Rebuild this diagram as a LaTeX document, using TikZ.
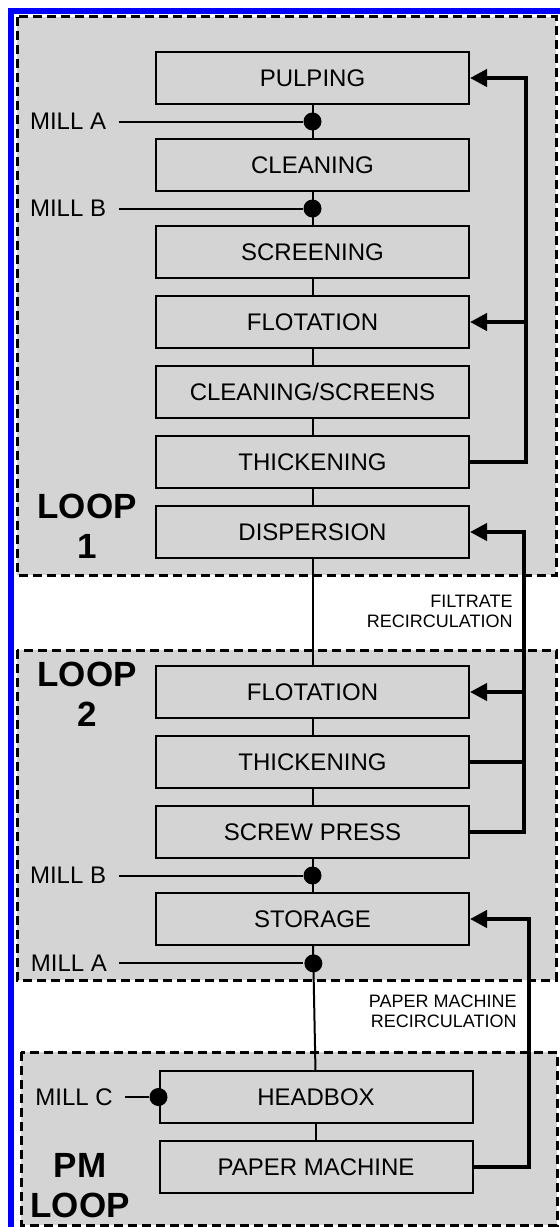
\documentclass[tikz,border=0pt]{standalone}
\usepackage{fontspec}
\setmainfont{Liberation Sans}
\usetikzlibrary{positioning, arrows.meta}

\definecolor{loopgray}{RGB}{212,212,212}
\definecolor{frameblue}{RGB}{0,0,255}

\begin{document}
\begin{tikzpicture}[
    x=0.5pt, y=-0.5pt,
    % Define the style for the process boxes
    stage/.style={
        rectangle,
        draw,
        line width=1pt,
        fill=loopgray,
        minimum width=156.5pt,
        minimum height=26pt,
        inner sep=0pt,
        font=\fontsize{12}{14}\selectfont
    },
    % Define the style for the dashed loop areas
    area/.style={
        draw,
        dash pattern=on 4.5pt off 2.5pt,
        line width=1.5pt,
        fill=loopgray
    },
    joint/.style={circle, fill, inner sep=0pt, minimum size=9pt},
    mill/.style={inner xsep=6pt, inner ysep=1.5pt, font=\fontsize{12}{14}\selectfont},
    looplabel/.style={align=center, inner sep=0pt, font=\bfseries\fontsize{17.5}{20}\selectfont},
    note/.style={align=right, inner sep=0pt, font=\fontsize{9}{10}\selectfont},
    % Define the style for the lines
    line/.style={draw, line width=1pt},
    feed/.style={draw, line width=2pt},
    recirc/.style={feed, -{Triangle[length=8.5pt, width=8.5pt]}}
]

    \useasboundingbox (0,0) rectangle (560,1227);

    % Loop areas and frame
    \path[area] (17,16.5) rectangle (556,575);
    \path[area] (17,650) rectangle (556,980);
    \path[area] (21,1052) rectangle (557,1225);
    \draw[frameblue, line width=3pt] (11,1227) -- (11,11) -- (560,11);

    % Loop 1
    \node [stage] (pulping) at (312.5,78) {PULPING};
    \node [stage, below=16.5pt of pulping] (clean1) {CLEANING};
    \node [stage, below=16.5pt of clean1] (screen1) {SCREENING};
    \node [stage, below=8pt of screen1] (flot1) {FLOTATION};
    \node [stage, below=8pt of flot1] (cleanscr) {CLEANING/SCREENS};
    \node [stage, below=8pt of cleanscr] (thick1) {THICKENING};
    \node [stage, below=8pt of thick1] (disp) {DISPERSION};

    % Loop 2
    \node [stage] (flot2) at (312.5,692) {FLOTATION};
    \node [stage, below=8pt of flot2] (thick2) {THICKENING};
    \node [stage, below=8pt of thick2] (screw) {SCREW PRESS};
    \node [stage, below=16.5pt of screw] (storage) {STORAGE};

    % PM loop
    \node [stage] (headbox) at (316,1097) {HEADBOX};
    \node [stage, below=8pt of headbox] (pm) {PAPER MACHINE};

    % Loop labels
    \node [looplabel] (loop1) at (87,526) {LOOP\\1};
    \node [looplabel] (loop2) at (87,694) {LOOP\\2};
    \node [looplabel] (loop3) at (80,1186) {PM\\LOOP};
    \node [note, anchor=east] (filtrate) at (513,611) {FILTRATE\\RECIRCULATION};
    \node [note, anchor=east] (pmrecirc) at (517,1011) {PAPER MACHINE\\RECIRCULATION};

    % Main line with mill joints
    \path [line] (pulping) -- node[joint] (jA1) {} (clean1);
    \path [line] (clean1) -- node[joint] (jB1) {} (screen1);
    \path [line] (screen1) -- (flot1);
    \path [line] (flot1) -- (cleanscr);
    \path [line] (cleanscr) -- (thick1);
    \path [line] (thick1) -- (disp);
    \path [line] (disp) -- (flot2);
    \path [line] (flot2) -- (thick2);
    \path [line] (thick2) -- (screw);
    \path [line] (screw) -- node[joint] (jB2) {} (storage);
    \path [line] (storage) -- (headbox) node[joint, pos=0.14] (jA2) {};
    \path [line] (headbox) -- (pm);
    \node [joint] (jC) at (headbox.west) {};

    % Mill inputs
    \node [mill, left=92pt of jA1] (millA1) {MILL A};
    \node [mill, left=92pt of jB1] (millB1) {MILL B};
    \node [mill, left=92pt of jB2] (millB2) {MILL B};
    \node [mill, left=92pt of jA2] (millA2) {MILL A};
    \node [mill, left=12pt of jC] (millC) {MILL C};
    \path [line] (millA1) -- (jA1);
    \path [line] (millB1) -- (jB1);
    \path [line] (millB2) -- (jB2);
    \path [line] (millA2) -- (jA2);
    \path [line] (millC) -- (jC);

    % Recirculation
    \path (thick1.east) ++(56,0) coordinate (r1);
    \path [recirc] (thick1.east) -- (r1) |- (pulping.east);
    \path [recirc] (r1 |- flot1.east) -- (flot1.east);

    \path (screw.east) ++(54,0) coordinate (r2);
    \path [recirc] (screw.east) -- (r2) |- (disp.east);
    \path [recirc] (r2 |- flot2.east) -- (flot2.east);
    \path [feed] (thick2.east) -- (r2 |- thick2.east);

    \path (pm.east) ++(55,0) coordinate (r3);
    \path [recirc] (pm.east) -- (r3) |- (storage.east);

\end{tikzpicture}
\end{document}
